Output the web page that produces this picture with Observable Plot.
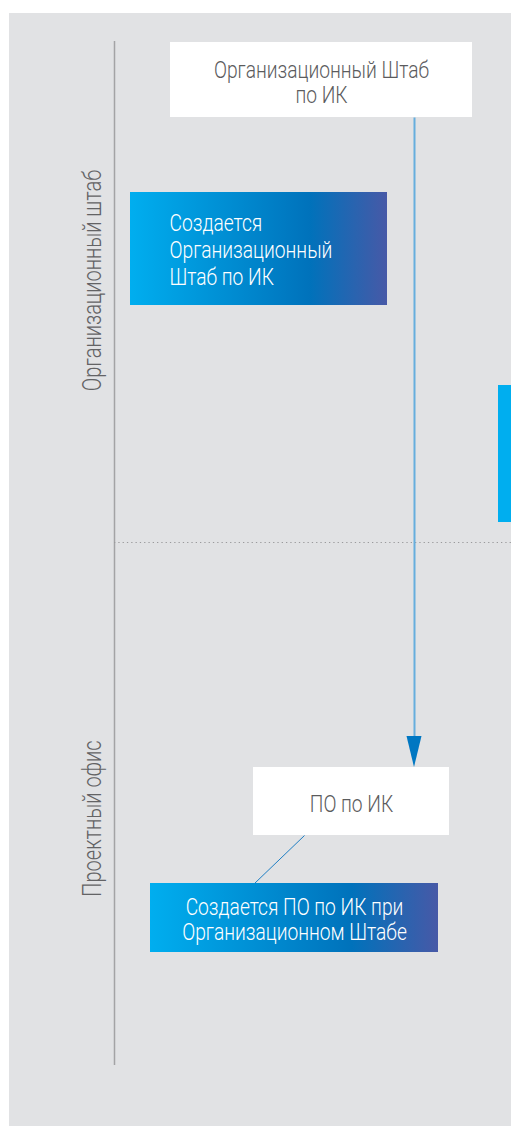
<!DOCTYPE html>
<html><head><meta charset="utf-8">
<script src="https://cdn.jsdelivr.net/npm/d3@7"></script>
<script src="https://cdn.jsdelivr.net/npm/@observablehq/plot@0.6"></script>
<style>
html,body{margin:0;padding:0;background:#fff;}
#chart svg text{font-family:Roboto,"Liberation Sans",sans-serif;font-weight:300;}
</style></head><body><div id="chart"></div>
<script>
// Diagram content (coordinates in diagram units)
const laneNames = ["Организационный штаб", "Проектный офис"];
const laneCenters = [280, 818];
const laneDivider = [542];
const laneAxis = [{x: 114, y1: 41, y2: 1065}];
const panel = [{x1: 9, x2: 511, y1: 13, y2: 1126}];

const boxLabels = ["Организационный Штаб\nпо ИК", "Создается\nОрганизационный\nШтаб по ИК", "ПО по ИК", "Создается ПО по ИК при\nОрганизационном Штабе"];
const boxKinds = ["plain", "action", "plain", "action"];
const boxX1 = [170, 130, 253, 150];
const boxX2 = [472, 387, 449, 438];
const boxY1 = [42, 192, 767, 883];
const boxY2 = [117, 305, 835, 952];
const textX = [321, 169, 351, 294];
const textY = [82, 249, 803, 919];
const textAnchors = ["middle", "start", "middle", "middle"];

const sideBar = [{x1: 498, x2: 511, y1: 385, y2: 522}];
const arrowLine = [{x1: 414, y1: 117, x2: 414, y2: 738}];
const arrowHead = [{y: 736, x1: 406.5, x2: 421.5}, {y: 767, x1: 414, x2: 414}];
const connector = [{x1: 304, y1: 835, x2: 254, y2: 883}];

const boxes = boxLabels.map((label, i) => ({
  label, kind: boxKinds[i], x1: boxX1[i], x2: boxX2[i], y1: boxY1[i], y2: boxY2[i],
  tx: textX[i], ty: textY[i], anchor: textAnchors[i]
}));
const lanes = laneNames.map((name, i) => ({name, y: laneCenters[i]}));

const W = 511, H = 1126;
const plot = Plot.plot({
  width: W, height: H,
  margin: 0,
  x: {domain: [0, W], range: [0, W], axis: null},
  y: {domain: [0, H], range: [0, H], axis: null},
  style: {background: "#ffffff", overflow: "visible"},
  marks: [
    Plot.rect(panel, {x1: "x1", x2: "x2", y1: "y1", y2: "y2", fill: "#e1e2e4"}),
    Plot.ruleX(laneAxis, {x: "x", y1: "y1", y2: "y2", stroke: "#a3a3a5", strokeWidth: 1.5}),
    Plot.ruleY(laneDivider, {y: d => d, x1: 114, x2: 511, stroke: "#9a9a9c", strokeWidth: 1, strokeDasharray: "1.3,3"}),
    Plot.text(lanes, {x: 92, y: "y", text: "name", rotate: -90, fontSize: 25, fill: "#636365", textAnchor: "middle"}),
    Plot.rect(sideBar, {x1: "x1", x2: "x2", y1: "y1", y2: "y2", fill: "#00aeef"}),
    Plot.link(arrowLine, {x1: "x1", y1: "y1", x2: "x2", y2: "y2", stroke: "#66aedd", strokeWidth: 2}),
    Plot.areaX(arrowHead, {y: "y", x1: "x1", x2: "x2", fill: "#0077c2"}),
    Plot.link(connector, {x1: "x1", y1: "y1", x2: "x2", y2: "y2", stroke: "#1f7fc4", strokeWidth: 1}),
    Plot.rect(boxes, {x1: "x1", x2: "x2", y1: "y1", y2: "y2", fill: d => d.kind === "plain" ? "#ffffff" : "url(#actionGrad)"}),
    Plot.text(boxes.filter(d => d.anchor === "middle"), {x: "tx", y: "ty", text: "label", textAnchor: "middle", lineHeight: 1.05, fontSize: 24, fill: d => d.kind === "plain" ? "#5b5b5d" : "#ffffff"}),
    Plot.text(boxes.filter(d => d.anchor === "start"), {x: "tx", y: "ty", text: "label", textAnchor: "start", lineHeight: 1.12, fontSize: 24, fill: "#ffffff"})
  ]
});

// condense the type horizontally to mimic a narrow typeface
plot.querySelectorAll("g[aria-label='text'] text").forEach(t => {
  const tr = t.getAttribute("transform") || "";
  t.setAttribute("transform", tr + " scale(0.8,1)");
});

const ns = "http://www.w3.org/2000/svg";
const defs = document.createElementNS(ns, "defs");
const grad = document.createElementNS(ns, "linearGradient");
grad.setAttribute("id", "actionGrad");
grad.setAttribute("x1", "0"); grad.setAttribute("x2", "1");
grad.setAttribute("y1", "0"); grad.setAttribute("y2", "0");
[["0", "#00aeef"], ["0.7", "#0072bb"], ["1", "#4759a7"]].forEach(([o, c]) => {
  const s = document.createElementNS(ns, "stop");
  s.setAttribute("offset", o); s.setAttribute("stop-color", c);
  grad.appendChild(s);
});
defs.appendChild(grad);
plot.insertBefore(defs, plot.firstChild);
document.getElementById("chart").appendChild(plot);
</script></body></html>
